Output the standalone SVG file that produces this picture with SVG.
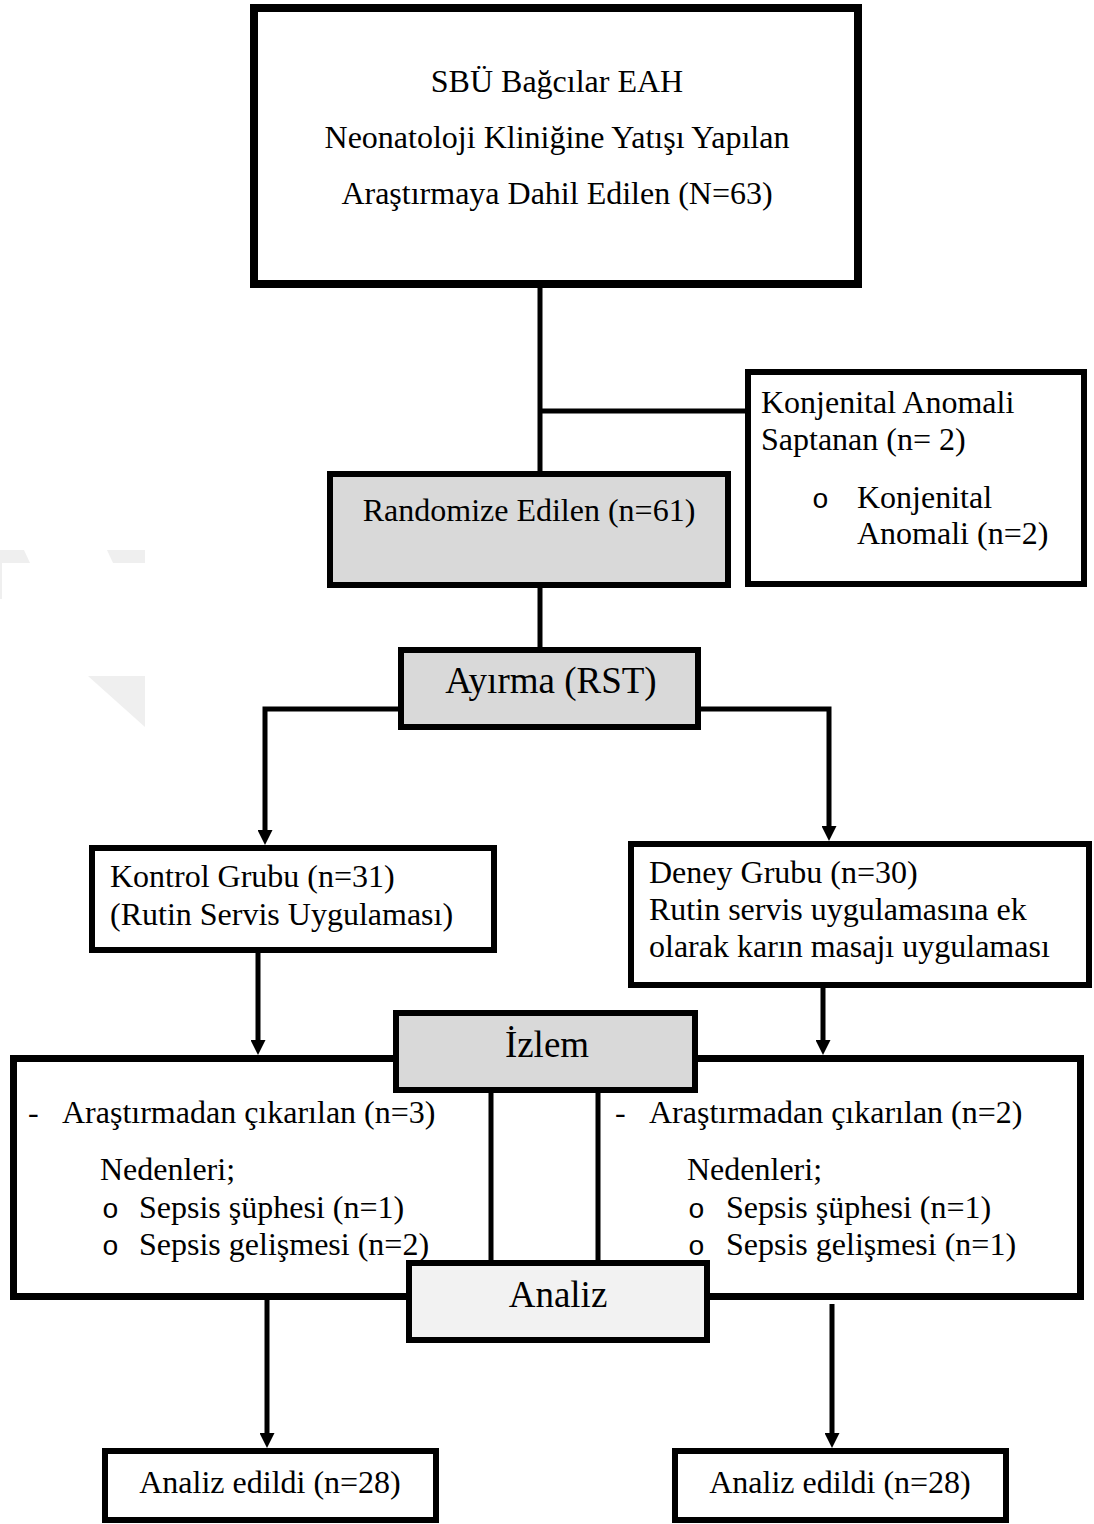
<svg xmlns="http://www.w3.org/2000/svg" width="1094" height="1524" viewBox="0 0 1094 1524">
<style>
  text { font-family: "Liberation Serif", "Times New Roman", serif; font-size: 32px; fill: #000; }
  .big { font-size: 37px; }
  .mid { text-anchor: middle; }
  .bul { font-family: "Liberation Mono", "Courier New", monospace; font-size: 28px; }
  .box { fill: #fff; stroke: #000; stroke-width: 6; }
  .gray { fill: #d9d9d9; }
  .light { fill: #f2f2f2; }
  .conn { fill: none; stroke: #000; stroke-width: 5; }
  .wm { fill: #efefef; stroke: none; }
</style>
<defs>
  <marker id="arr" markerUnits="userSpaceOnUse" markerWidth="15" markerHeight="15" refX="5" refY="7.5" orient="auto">
    <path d="M0,0 L15,7.5 L0,15 z" fill="#000"/>
  </marker>
</defs>
<rect width="1094" height="1524" fill="#fff"/>

<g id="watermark">
  <polygon class="wm" points="0,550 24,550 30,563 0,563"/>
  <rect class="wm" x="0" y="563" width="2" height="36"/>
  <polygon class="wm" points="107,550 145,550 145,563 113,563"/>
  <polygon class="wm" points="88,676 145,676 145,727"/>
</g>

<g id="n-izlem-frame">
  <rect x="13.5" y="1058.5" width="1067" height="238" fill="#fff" stroke="#000" stroke-width="7"/>
  <text x="28" y="1123">-</text>
  <text x="62" y="1123">Araştırmadan çıkarılan (n=3)</text>
  <text x="100" y="1180">Nedenleri;</text>
  <text class="bul" x="102" y="1218">o</text>
  <text x="139" y="1218">Sepsis şüphesi (n=1)</text>
  <text class="bul" x="102" y="1255">o</text>
  <text x="139" y="1255">Sepsis gelişmesi (n=2)</text>
  <text x="615" y="1123">-</text>
  <text x="649" y="1123">Araştırmadan çıkarılan (n=2)</text>
  <text x="687" y="1180">Nedenleri;</text>
  <text class="bul" x="688" y="1218">o</text>
  <text x="726" y="1218">Sepsis şüphesi (n=1)</text>
  <text class="bul" x="688" y="1255">o</text>
  <text x="726" y="1255">Sepsis gelişmesi (n=1)</text>
</g>

<g id="connectors">
  <line class="conn" x1="540" y1="288" x2="540" y2="474"/>
  <line class="conn" x1="540" y1="411" x2="746" y2="411"/>
  <line class="conn" x1="540" y1="586" x2="540" y2="650"/>
  <polyline class="conn" points="400,709 265,709 265,835" marker-end="url(#arr)"/>
  <polyline class="conn" points="699,709 829,709 829,831" marker-end="url(#arr)"/>
  <line class="conn" x1="258" y1="952" x2="258" y2="1045" marker-end="url(#arr)"/>
  <line class="conn" x1="823" y1="986" x2="823" y2="1045" marker-end="url(#arr)"/>
  <line class="conn" x1="491" y1="1090" x2="491" y2="1263"/>
  <line class="conn" x1="598" y1="1090" x2="598" y2="1263"/>
  <line class="conn" x1="267" y1="1298" x2="267" y2="1438" marker-end="url(#arr)"/>
  <line class="conn" x1="832" y1="1304" x2="832" y2="1438" marker-end="url(#arr)"/>
</g>

<g id="n-top">
  <rect x="254" y="8" width="604" height="276" fill="#fff" stroke="#000" stroke-width="8"/>
  <text class="mid" x="557" y="92">SBÜ Bağcılar EAH</text>
  <text class="mid" x="557" y="148">Neonatoloji Kliniğine Yatışı Yapılan</text>
  <text class="mid" x="557" y="204">Araştırmaya Dahil Edilen (N=63)</text>
</g>

<g id="n-konjenital">
  <rect class="box" x="748" y="372" width="336" height="212"/>
  <text x="761" y="413">Konjenital Anomali</text>
  <text x="761" y="450">Saptanan (n= 2)</text>
  <text class="bul" x="812" y="508">o</text>
  <text x="857" y="508">Konjenital</text>
  <text x="857" y="544">Anomali (n=2)</text>
</g>

<g id="n-randomize">
  <rect class="box gray" x="330" y="474" width="398" height="111"/>
  <text class="mid" x="529" y="521">Randomize Edilen (n=61)</text>
</g>

<g id="n-ayirma">
  <rect class="box gray" x="401" y="650" width="297" height="77"/>
  <text class="mid big" x="551" y="693">Ayırma (RST)</text>
</g>

<g id="n-kontrol">
  <rect class="box" x="92" y="848" width="402" height="102"/>
  <text x="110" y="887">Kontrol Grubu (n=31)</text>
  <text x="110" y="925">(Rutin Servis Uygulaması)</text>
</g>

<g id="n-deney">
  <rect class="box" x="631" y="844" width="458" height="141"/>
  <text x="649" y="883">Deney Grubu (n=30)</text>
  <text x="649" y="920">Rutin servis uygulamasına ek</text>
  <text x="649" y="957">olarak karın masajı uygulaması</text>
</g>

<g id="n-izlem">
  <rect class="box gray" x="396" y="1013" width="299" height="77"/>
  <text class="mid big" x="547" y="1057">İzlem</text>
</g>

<g id="n-analiz">
  <rect class="box light" x="409" y="1263" width="298" height="77"/>
  <text class="mid big" x="558" y="1307">Analiz</text>
</g>

<g id="n-analiz-left">
  <rect class="box" x="105" y="1451" width="331" height="69"/>
  <text class="mid" x="270" y="1493">Analiz edildi (n=28)</text>
</g>

<g id="n-analiz-right">
  <rect class="box" x="675" y="1451" width="331" height="69"/>
  <text class="mid" x="840" y="1493">Analiz edildi (n=28)</text>
</g>
</svg>
